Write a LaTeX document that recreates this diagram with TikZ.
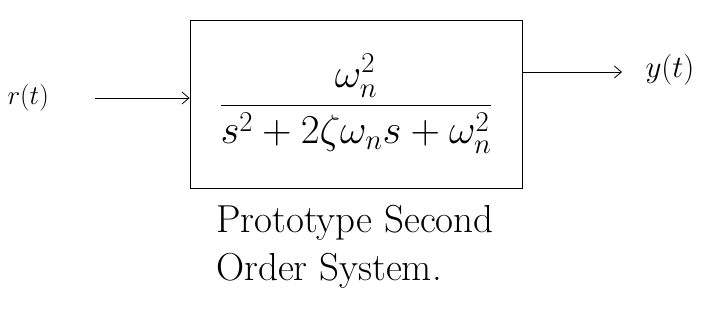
\RequirePackage{fix-cm}
\documentclass[tikz,border=0pt]{standalone}
\usepackage{amsmath}
\usetikzlibrary{positioning,arrows.meta}
\begin{document}
\begin{tikzpicture}[x=1pt,y=-1pt,
    blockbox/.style={draw, thick, minimum width=332pt, minimum height=168pt, inner sep=0pt},
    sigarrow/.style={-{Straight Barb[length=7pt,width=12pt]}, thick},
    siglabel/.style={font=\fontsize{27}{30}\selectfont}]
  \useasboundingbox (0,0) rectangle (714,327);
  \node[blockbox, font=\fontsize{41}{46}\selectfont] (plant) at (356,104)
    {$\dfrac{\omega_n^2}{s^2+2\zeta\omega_n s+\omega_n^2}$};
  \node[siglabel, anchor=west] (rin) at (4,98) {$r(t)$};
  \node[siglabel, anchor=west, font=\fontsize{31}{34}\selectfont] (yout) at (642,70) {$y(t)$};
  \coordinate (rstart) at (95,98);
  \coordinate (yend) at (622,72);
  \draw[sigarrow] (rstart) -- (rstart -| plant.west);
  \draw[sigarrow] (yend -| plant.east) -- (yend);
  \node[anchor=north west, align=left, inner sep=0pt,
        font=\fontsize{39}{48}\selectfont] (caption) at (216,205)
    {Prototype Second\\Order System.};
\end{tikzpicture}
\end{document}
